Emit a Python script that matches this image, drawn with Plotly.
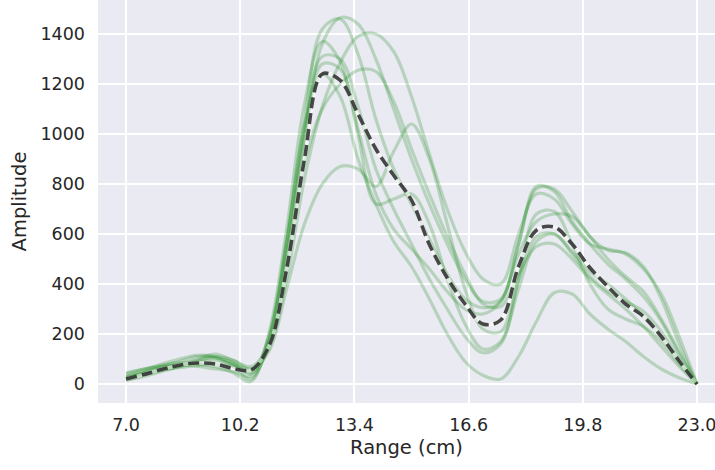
import plotly.graph_objects as go

x_cm = [7.0, 7.5, 8.0, 8.5, 9.0, 9.5, 10.0, 10.5, 11.0, 11.5, 12.0, 12.5, 13.0, 13.5, 14.0, 14.5,
        15.0, 15.5, 16.0, 16.5, 17.0, 17.5, 18.0, 18.5, 19.0, 19.5, 20.0, 20.5, 21.0, 21.5, 22.0, 22.5, 23.0]

trace_a = [30, 55, 80, 100, 115, 110, 80, 45, 180, 560, 1050, 1420, 1460, 1320, 1060, 860,
           720, 580, 440, 340, 305, 330, 560, 790, 770, 650, 560, 480, 420, 350, 250, 120, 0]
trace_b = [15, 35, 55, 70, 85, 95, 80, 60, 160, 500, 980, 1360, 1465, 1440, 1300, 1100,
           900, 720, 560, 420, 330, 340, 560, 780, 780, 690, 590, 535, 525, 470, 340, 160, 0]
trace_c = [25, 45, 65, 80, 100, 120, 95, 70, 150, 420, 820, 1110, 1285, 1390, 1400, 1330,
           1150, 920, 700, 530, 420, 400, 600, 760, 740, 640, 560, 540, 520, 460, 360, 190, 0]
trace_d = [40, 60, 75, 85, 80, 70, 45, 10, 200, 620, 1120, 1370, 1290, 1000, 720, 740,
           760, 640, 420, 240, 140, 170, 380, 570, 600, 520, 430, 370, 330, 290, 210, 100, 0]
trace_e = [20, 45, 70, 90, 110, 105, 70, 20, 170, 560, 1020, 1310, 1300, 1110, 860, 700,
           560, 420, 300, 190, 125, 160, 420, 680, 690, 560, 400, 300, 260, 230, 170, 80, 0]
trace_f = [45, 60, 70, 75, 70, 60, 50, 30, 150, 520, 980, 1280, 1260, 1020, 760, 620,
           540, 460, 370, 300, 280, 330, 520, 650, 680, 670, 590, 500, 430, 370, 260, 130, 0]
trace_g = [25, 40, 55, 65, 75, 80, 70, 55, 140, 460, 880, 1100, 1200, 1255, 1250, 1130,
           940, 760, 590, 440, 320, 310, 440, 550, 560, 500, 420, 360, 300, 230, 150, 70, 0]
trace_h = [15, 30, 50, 70, 90, 110, 95, 60, 130, 380, 640, 800, 870, 860, 790, 930,
           1040, 900, 640, 380, 220, 210, 420, 590, 600, 530, 450, 400, 340, 270, 190, 90, 0]
trace_i = [30, 45, 60, 75, 95, 105, 85, 40, 190, 580, 1040, 1240, 1150, 900, 720, 570,
           470, 340, 200, 90, 35, 20, 110, 250, 365, 360, 280, 220, 170, 110, 60, 25, 0]

mean_trace = [20, 38, 58, 75, 84, 80, 62, 56, 150, 460, 900, 1240, 1215, 1080, 940, 835,
              735, 558, 425, 320, 240, 256, 470, 615, 628, 560, 465, 390, 320, 270, 190, 92, 0]

traces = [trace_a, trace_b, trace_c, trace_d, trace_e, trace_f, trace_g, trace_h, trace_i]

x_tickvals = [7.0, 10.2, 13.4, 16.6, 19.8, 23.0]
x_ticktext = ["7.0", "10.2", "13.4", "16.6", "19.8", "23.0"]
y_tickvals = [0, 200, 400, 600, 800, 1000, 1200, 1400]

fig = go.Figure()
for t in traces:
    fig.add_trace(go.Scatter(
        x=x_cm, y=t, mode="lines",
        line=dict(color="rgba(0,128,0,0.22)", width=3.2, shape="spline", smoothing=1.0),
        hoverinfo="skip", showlegend=False))

fig.add_trace(go.Scatter(
    x=x_cm, y=mean_trace, mode="lines",
    line=dict(color="rgba(255,255,255,0.55)", width=3.8, shape="spline", smoothing=1.0),
    hoverinfo="skip", showlegend=False))
fig.add_trace(go.Scatter(
    x=x_cm, y=mean_trace, mode="lines",
    line=dict(color="rgba(40,40,40,0.85)", width=3.6, dash="11px,5px", shape="spline", smoothing=1.0),
    showlegend=False))

font_family = "DejaVu Sans"
fig.update_layout(
    width=715, height=470,
    margin=dict(l=98, r=0, t=0, b=67),
    paper_bgcolor="white",
    plot_bgcolor="#EAEAF2",
    font=dict(family=font_family, size=17.5, color="#262626"),
    showlegend=False,
)
fig.update_xaxes(
    range=[6.214, 23.505],
    tickvals=x_tickvals, ticktext=x_ticktext,
    showgrid=True, gridcolor="white", gridwidth=1.6,
    zeroline=False, showline=False, ticks="",
    ticklabelstandoff=9, ticklabeloverflow="allow",
    title=dict(text="Range (cm)", font=dict(size=19.5, family=font_family, color="#262626"), standoff=6),
)
fig.update_yaxes(
    range=[-76, 1536],
    tickvals=y_tickvals,
    showgrid=True, gridcolor="white", gridwidth=1.6,
    zeroline=False, showline=False, ticks="",
    ticklabelstandoff=12,
    title=dict(text="Amplitude", font=dict(size=19.5, family=font_family, color="#262626"), standoff=8),
)

fig.write_html("out.html")
